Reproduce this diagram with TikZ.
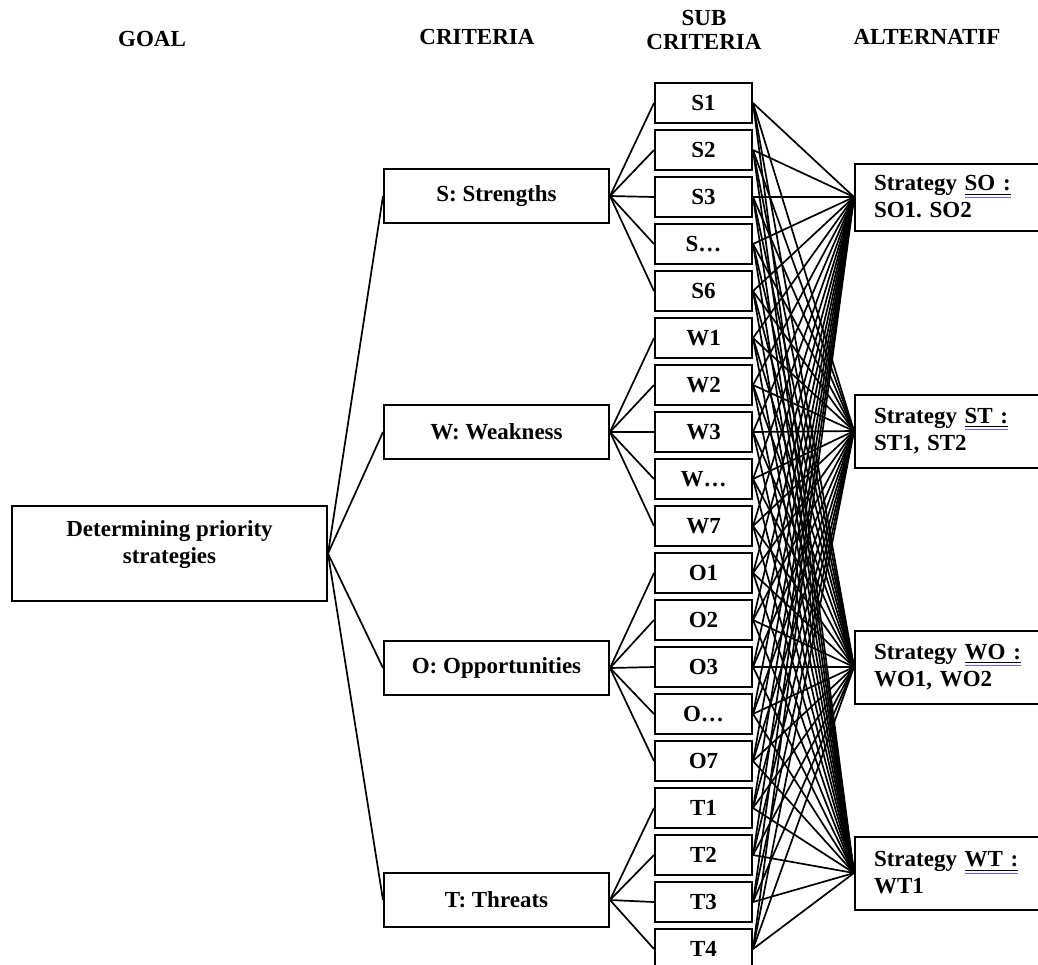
\documentclass[tikz,border=0pt]{standalone}
\usepackage{fontspec}
\setmainfont{Liberation Serif}
\usetikzlibrary{positioning}
\frenchspacing

\newsavebox{\ulbox}
\newcommand{\altul}[1]{\sbox{\ulbox}{#1}%
    \rlap{\rule[-2pt]{\wd\ulbox}{0.6pt}}%
    \rlap{\color{blue!60}\rule[-3.4pt]{\wd\ulbox}{0.5pt}}%
    \usebox{\ulbox}}

\begin{document}
\begin{tikzpicture}[
    x=0.5pt, y=-0.5pt,
    every node/.style={font=\fontsize{11.5}{13.5}\selectfont\bfseries},
    head/.style={align=center, font=\fontsize{11.5}{12}\selectfont\bfseries},
    box/.style={draw=black, line width=1pt, fill=white, inner sep=0pt},
    goalbox/.style={box, minimum width=157.5pt, minimum height=47.5pt},
    critbox/.style={box, minimum width=112.5pt, minimum height=27pt},
    subbox/.style={box, minimum width=48.5pt, minimum height=20pt},
    altbox/.style={box, anchor=west, minimum height=36.5pt,
        inner xsep=9.5pt, text width=74pt, align=left},
    edge/.style={line width=0.85pt, -}
]
    \useasboundingbox (0,0) rectangle (1038,964);
    \clip (0,0) rectangle (1038,964);

    % column headings
    \node[head] (hgoal) at (152,39) {GOAL};
    \node[head] (hcrit) at (477,37) {CRITERIA};
    \node[head] (hsub) at (704,30) {SUB\\CRITERIA};
    \node[head] (halt) at (927,37) {ALTERNATIF};

    % goal
    \node[goalbox] (goal) at (169.5,553.5) {};
    \node[align=center] (goaltxt) at (169.5,545) {Determining priority\\strategies};

    % criteria
    \node[critbox] (str) at (496.5,196) {S: Strengths};
    \node[critbox] (wea) at (496.5,432) {W: Weakness};
    \node[critbox] (opp) at (496.5,668) {O: Opportunities};
    \node[critbox] (thr) at (496.5,900) {T: Threats};

    % sub criteria
    \node[subbox] (s1) at (703.5,103) {S1};
    \node[subbox] (s2) at (703.5,150) {S2};
    \node[subbox] (s3) at (703.5,197) {S3};
    \node[subbox] (sx) at (703.5,244) {S\ldots};
    \node[subbox] (s6) at (703.5,291) {S6};
    \node[subbox] (w1) at (703.5,338) {W1};
    \node[subbox] (w2) at (703.5,385) {W2};
    \node[subbox] (w3) at (703.5,432) {W3};
    \node[subbox] (wx) at (703.5,479) {W\ldots};
    \node[subbox] (w7) at (703.5,526) {W7};
    \node[subbox] (o1) at (703.5,573) {O1};
    \node[subbox] (o2) at (703.5,620) {O2};
    \node[subbox] (o3) at (703.5,667) {O3};
    \node[subbox] (ox) at (703.5,714) {O\ldots};
    \node[subbox] (o7) at (703.5,761) {O7};
    \node[subbox] (t1) at (703.5,808) {T1};
    \node[subbox] (t2) at (703.5,855) {T2};
    \node[subbox] (t3) at (703.5,902) {T3};
    \node[subbox] (t4) at (703.5,949) {T4};

    % alternatives
    \node[altbox, minimum height=33.5pt] (so) at (854,197) {Strategy \altul{SO :}\\SO1. SO2};
    \node[altbox] (st) at (854,431) {Strategy \altul{ST :}\\ST1, ST2};
    \node[altbox] (wo) at (854,667) {Strategy \altul{WO :}\\WO1, WO2};
    \node[altbox] (wt) at (854,873) {Strategy \altul{WT :}\\WT1};

    % connectors
    \foreach \c in {str,wea,opp,thr}
        \draw[edge] (goal.east) -- (\c.west);
    \foreach \c/\subs in {str/{s1,s2,s3,sx,s6}, wea/{w1,w2,w3,wx,w7},
                          opp/{o1,o2,o3,ox,o7}, thr/{t1,t2,t3,t4}}
        \foreach \s in \subs
            \draw[edge] (\c.east) -- (\s.west);
    \foreach \s in {s1,s2,s3,sx,s6,w1,w2,w3,wx,w7,o1,o2,o3,ox,o7,t1,t2,t3,t4}
        \foreach \a in {so,st,wo,wt}
            \draw[edge] (\s.east) -- (\a.west);
\end{tikzpicture}
\end{document}
